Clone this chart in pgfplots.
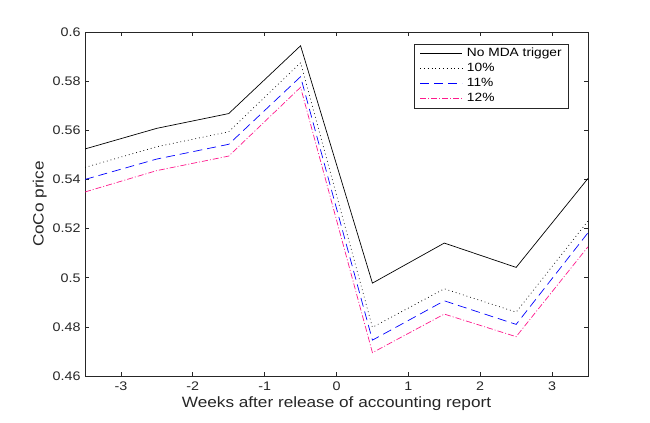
\documentclass[border=0pt]{standalone}
\usepackage{fontspec}
\setmainfont[FakeStretch=1.15]{Liberation Sans}
\usepackage{pgfplots}
\pgfplotsset{compat=1.18}
\definecolor{mpink}{rgb}{1,0.1,0.55}
\definecolor{axgray}{rgb}{0.15,0.15,0.15}
\begin{document}
\begin{tikzpicture}[x=1bp,y=1bp]
\path[use as bounding box] (0,0) rectangle (650,422);
\begin{axis}[
  at={(85bp,46bp)}, anchor=south west,
  scale only axis, width=503bp, height=344bp,
  xmin=-3.5, xmax=3.5, ymin=0.46, ymax=0.6,
  xtick={-3,-2,-1,0,1,2,3},
  ytick={0.46,0.48,0.5,0.52,0.54,0.56,0.58,0.6},
  yticklabels={0.46,0.48,0.5,0.52,0.54,0.56,0.58,0.6},
  xticklabels={-3,-2,-1,0,1,2,3},
  tick align=inside, tick pos=both,
  major tick length=4bp,
  axis line style={axgray, line width=0.6pt},
  every tick/.style={axgray, line width=0.6pt},
  tick label style={font=\fontsize{12.5}{13}\selectfont, text=axgray},
  xticklabel style={yshift=-2bp},
  yticklabel style={xshift=-1bp},
  label style={font=\fontsize{15}{16}\selectfont, text=axgray},
  xlabel={Weeks after release of accounting report},
  ylabel={CoCo price},
  xlabel style={yshift=1bp},
  ylabel style={yshift=-1bp},
  legend style={at={(0.655,0.965)}, anchor=north west, draw=axgray, line width=0.6pt,
    font=\fontsize{12}{13}\selectfont, row sep=0bp, column sep=3bp, inner xsep=5bp, inner ysep=2bp,
    nodes={inner sep=1.5bp, text height=9bp, text depth=3bp}},
  legend cell align=left,
  legend image code/.code={\draw[mark repeat=2,mark phase=2] plot coordinates {(0bp,0bp) (21bp,0bp) (42bp,0bp)};},
]
\addplot[black, line width=0.7pt] coordinates {
(-3.5,0.5524) (-2.5,0.5608) (-1.5,0.5668) (-0.5,0.5944) (0.5,0.4978) (1.5,0.5141) (2.5,0.5042) (3.5,0.5404)};
\addlegendentry{No MDA trigger}
\addplot[black, line width=0.7pt, dash pattern=on 0.8bp off 3bp] coordinates {
(-3.5,0.5449) (-2.5,0.5533) (-1.5,0.5594) (-0.5,0.5875) (0.5,0.4798) (1.5,0.4955) (2.5,0.4860) (3.5,0.5231)};
\addlegendentry{10\%}
\addplot[blue, line width=0.7pt, dash pattern=on 9bp off 5bp] coordinates {
(-3.5,0.5400) (-2.5,0.5483) (-1.5,0.5543) (-0.5,0.5818) (0.5,0.4746) (1.5,0.4906) (2.5,0.4810) (3.5,0.5183)};
\addlegendentry{11\%}
\addplot[mpink, line width=0.7pt, dash pattern=on 6bp off 2bp on 1bp off 2bp] coordinates {
(-3.5,0.5349) (-2.5,0.5436) (-1.5,0.5495) (-0.5,0.5775) (0.5,0.4695) (1.5,0.4852) (2.5,0.4760) (3.5,0.5126)};
\addlegendentry{12\%}
\end{axis}
\end{tikzpicture}
\end{document}
